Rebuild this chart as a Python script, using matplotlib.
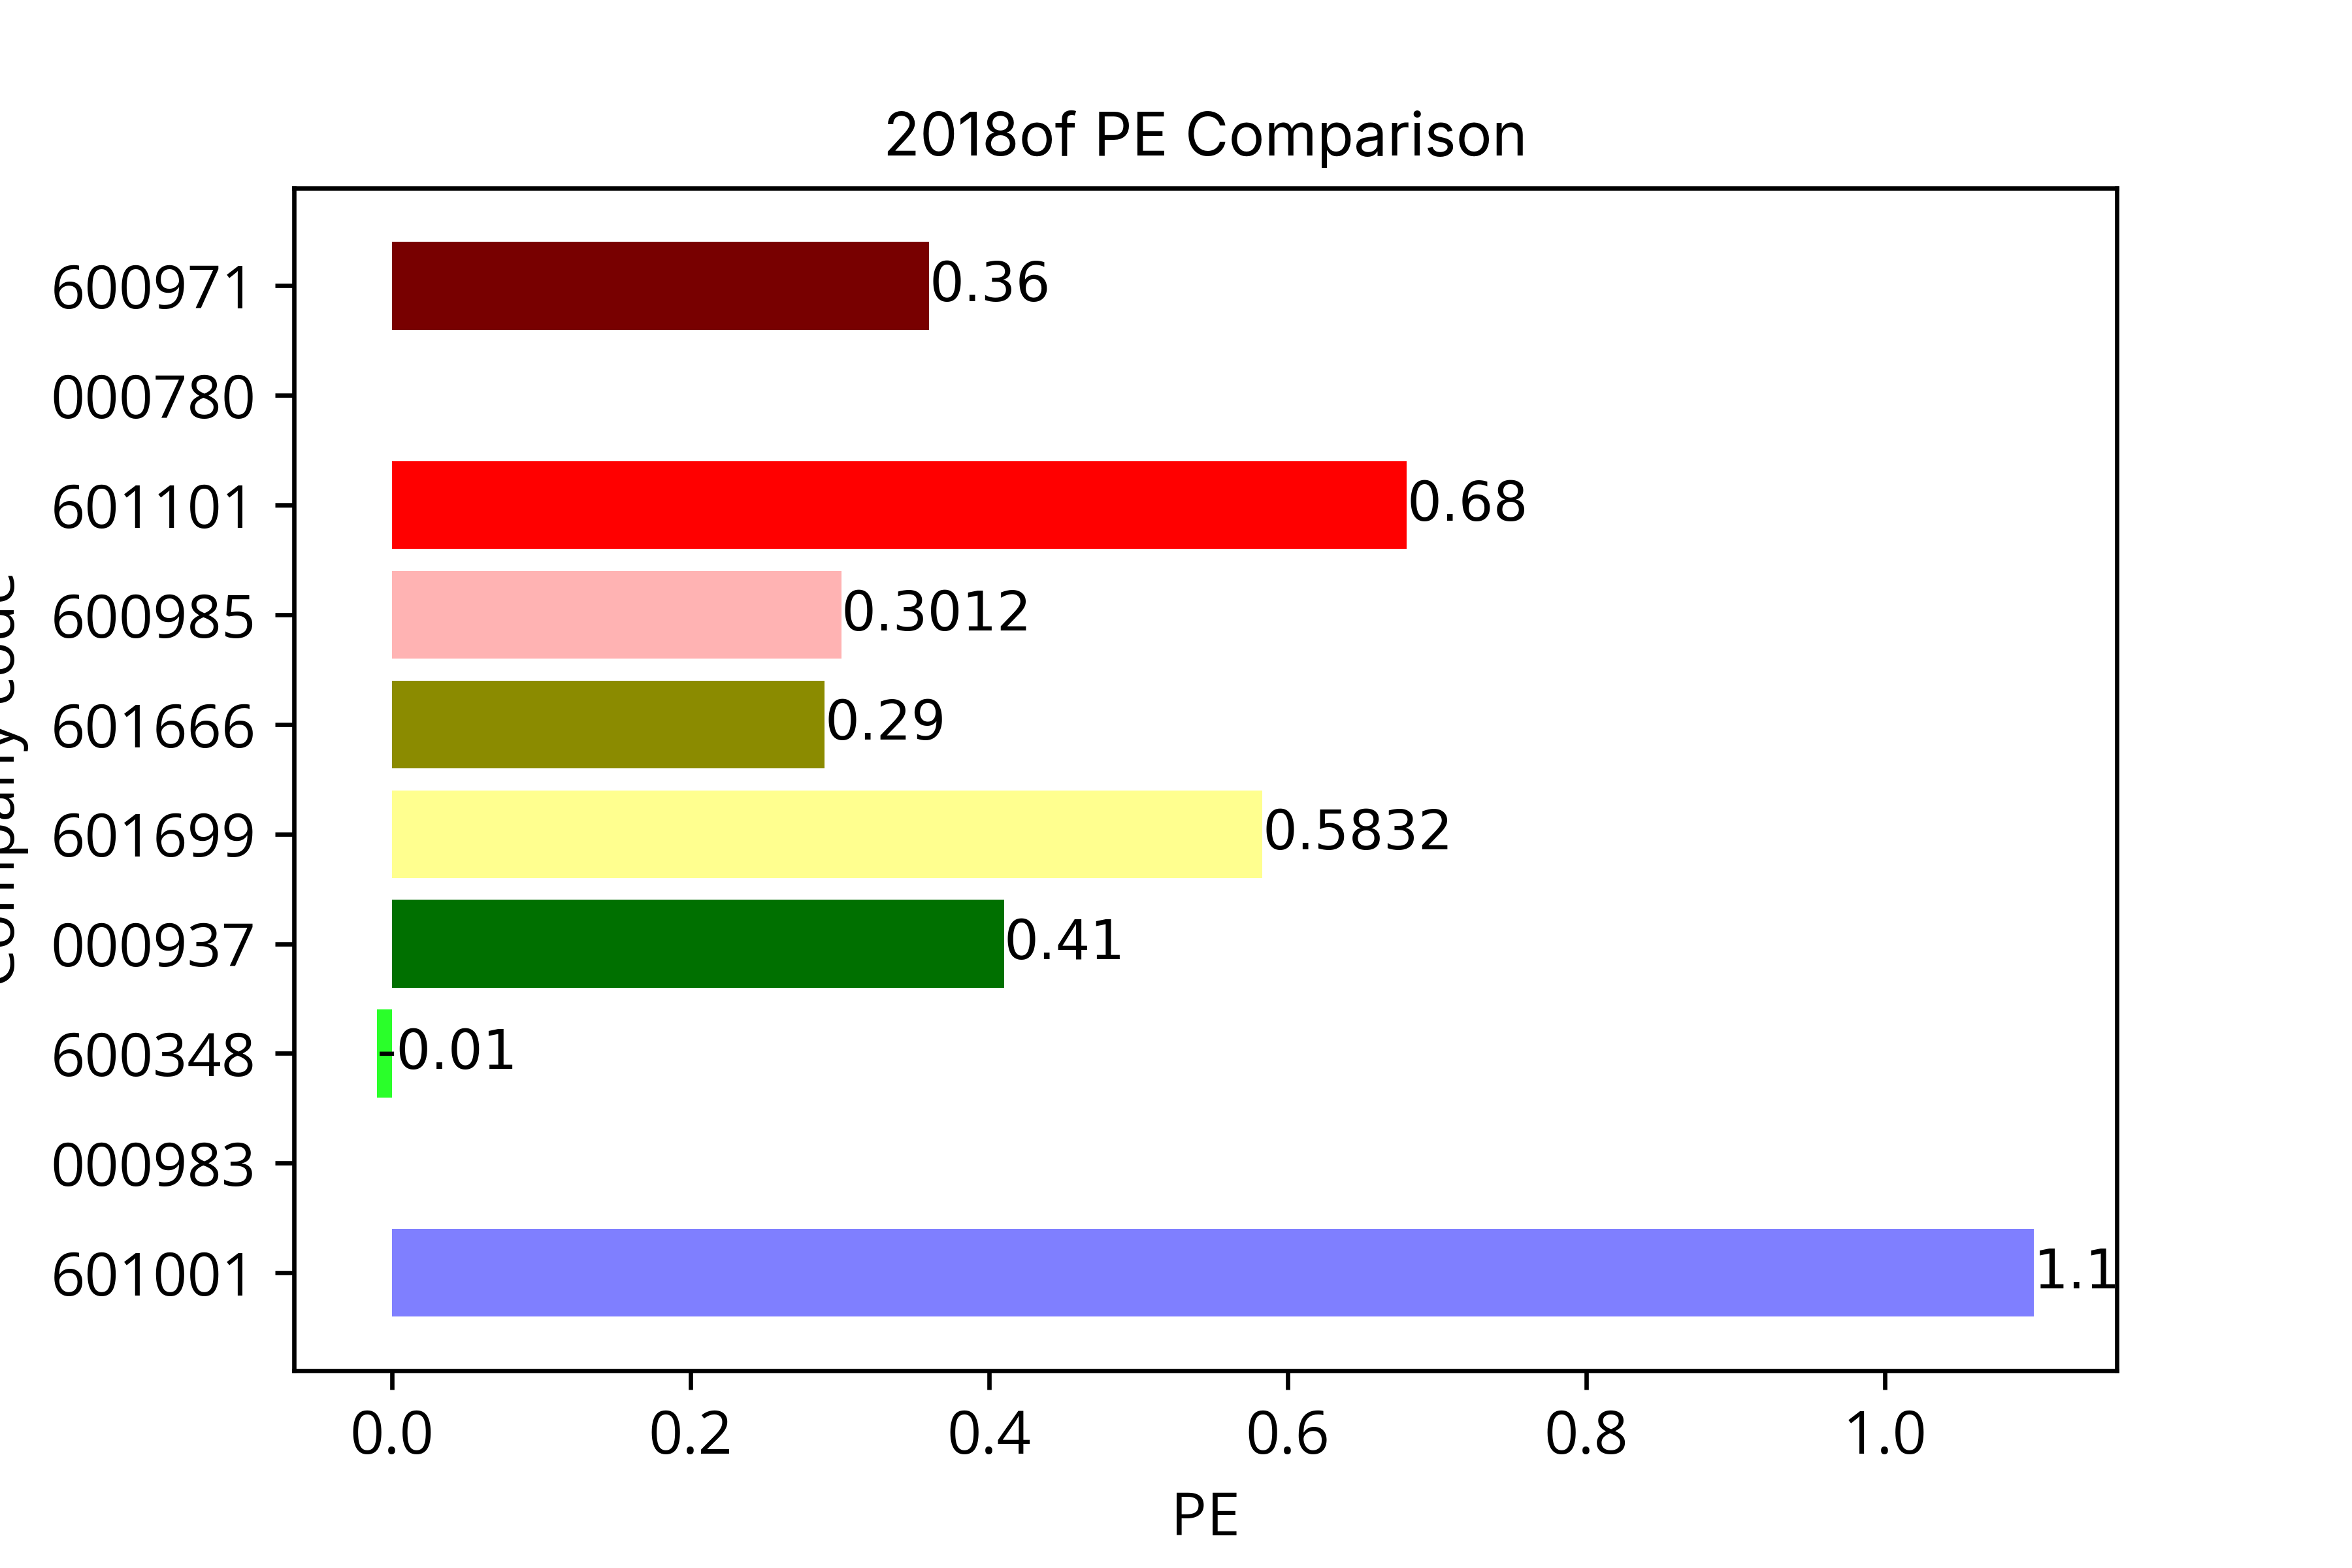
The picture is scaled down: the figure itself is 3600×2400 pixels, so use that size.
import numpy as np
import matplotlib
matplotlib.use("Agg")
import matplotlib.pyplot as plt

plt.rcParams['font.family'] = ['Open Sans', 'Noto Sans CJK JP', 'DejaVu Sans']
plt.rcParams['font.size'] = 11

# bottom to top, as barh draws them
codes = ['601001', '000983', '600348', '000937', '601699',
         '601666', '600985', '601101', '000780', '600971']
pe = [1.1, np.nan, -0.01, 0.41, 0.5832, 0.29, 0.3012, 0.68, np.nan, 0.36]
colors = ['#7f7fff', '#ffffff', '#2aff2a', '#007000', '#ffff8f',
          '#8b8b00', '#ffb3b3', '#ff0000', '#ffffff', '#780000']

fig, ax = plt.subplots(figsize=(6, 4), dpi=600)
fig.subplots_adjust(left=0.125, right=0.9, bottom=0.126, top=0.88)

ypos = np.arange(len(codes))
ax.barh(ypos, pe, color=colors)
for y, v in zip(ypos, pe):
    if np.isnan(v):
        continue
    ax.text(v, y, str(v), va='center', ha='left', fontsize=10,
            family='DejaVu Sans')

ax.set_yticks(ypos)
ax.set_yticklabels(codes)
ax.set_xlabel('PE')
ax.set_ylabel('Company code')
ax.set_title('2018of PE Comparison', fontsize=11, family='Inter')

fig.savefig('out.png', dpi=600)
